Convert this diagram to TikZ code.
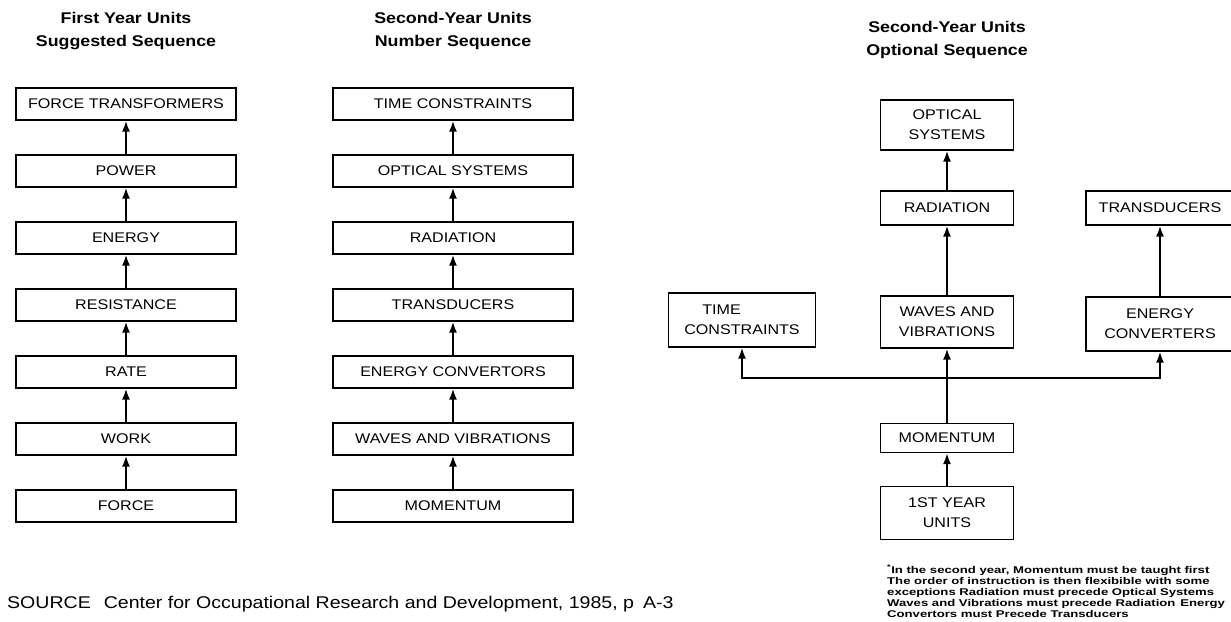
\documentclass[tikz,border=0pt]{standalone}
\usepackage{fontspec}
\setmainfont{Liberation Sans}[FakeStretch=1.15]
\newfontfamily\notefont{Liberation Sans}[FakeStretch=1.34]
\usetikzlibrary{positioning, arrows.meta}

\begin{document}
\begin{tikzpicture}[x=1pt, y=-1pt, node distance=67pt]
    % Define styles
    \tikzstyle{heading} = [align=center, font=\bfseries\fontsize{15.5}{23}\selectfont]
    \tikzstyle{unit} = [rectangle, draw=black, line width=1.3pt, minimum height=32pt, inner sep=2pt, align=center, font=\fontsize{14}{20}\selectfont]
    \tikzstyle{firstyear} = [unit, minimum width=220pt]
    \tikzstyle{secondyear} = [unit, minimum width=240pt]
    \tikzstyle{option} = [unit, minimum width=133pt]
    \tikzstyle{arrow} = [line width=1.8pt, -{Latex[length=11pt, width=8pt]}]

    \useasboundingbox (0,0) rectangle (1231,621);

    % Headings
    \node (head1) [heading] at (126,31) {First Year Units\\Suggested Sequence};
    \node (head2) [heading] at (453,31) {Second-Year Units\\Number Sequence};
    \node (head3) [heading] at (947,40) {Second-Year Units\\Optional Sequence};

    % First year column
    \node (force) [firstyear] at (126,506) {FORCE};
    \node (work) [firstyear, above of=force] {WORK};
    \node (rate) [firstyear, above of=work] {RATE};
    \node (resistance) [firstyear, above of=rate] {RESISTANCE};
    \node (energy) [firstyear, above of=resistance] {ENERGY};
    \node (power) [firstyear, above of=energy] {POWER};
    \node (forcetrans) [firstyear, above of=power] {FORCE TRANSFORMERS};

    % Second year, number sequence
    \node (momentum) [secondyear] at (453,506) {MOMENTUM};
    \node (waves) [secondyear, above of=momentum] {WAVES AND VIBRATIONS};
    \node (convertors) [secondyear, above of=waves] {ENERGY CONVERTORS};
    \node (transducers) [secondyear, above of=convertors] {TRANSDUCERS};
    \node (radiation) [secondyear, above of=transducers] {RADIATION};
    \node (optical) [secondyear, above of=radiation] {OPTICAL SYSTEMS};
    \node (time) [secondyear, above of=optical] {TIME CONSTRAINTS};

    % Second year, optional sequence
    \node (opt_optical) [option, minimum height=50pt] at (947,125) {OPTICAL\\SYSTEMS};
    \node (opt_radiation) [option, minimum height=34pt] at (947,208) {RADIATION};
    \node (opt_transducers) [option, minimum width=148pt, minimum height=34pt] at (1160,208) {TRANSDUCERS};
    \node (opt_time) [option, minimum width=147pt, minimum height=54pt, align=left] at (742,320) {\hspace*{18pt}TIME\\CONSTRAINTS};
    \node (opt_waves) [option, minimum height=52pt] at (947,322) {WAVES AND\\VIBRATIONS};
    \node (opt_converters) [option, minimum width=148pt, minimum height=54pt] at (1160,324) {ENERGY\\CONVERTERS};
    \node (opt_momentum) [option, minimum height=29pt] at (947,438) {MOMENTUM};
    \node (opt_first) [option, minimum height=53pt] at (947,513) {1ST YEAR\\UNITS};
    \coordinate (split) at (947,378);

    % Notes
    \node (note) [anchor=north west, align=left, inner sep=0pt, font=\notefont\bfseries\fontsize{9.8}{11}\selectfont] at (887,565) {\textsuperscript{*}In the second year, Momentum must be taught first\\
        The order of instruction is then flexibible with some\\
        exceptions Radiation must precede Optical Systems\\
        Waves and Vibrations must precede Radiation\hspace{5pt}Energy\\
        Convertors must Precede Transducers};
    \node (source) [anchor=west, inner sep=0pt, font=\fontsize{17}{20}\selectfont] at (7,604) {SOURCE\hspace{13pt}Center for Occupational Research and Development, 1985, p\hspace{9pt}A-3};

    % Arrows
    \draw [arrow] (force) -- (work);
    \draw [arrow] (work) -- (rate);
    \draw [arrow] (rate) -- (resistance);
    \draw [arrow] (resistance) -- (energy);
    \draw [arrow] (energy) -- (power);
    \draw [arrow] (power) -- (forcetrans);

    \draw [arrow] (momentum) -- (waves);
    \draw [arrow] (waves) -- (convertors);
    \draw [arrow] (convertors) -- (transducers);
    \draw [arrow] (transducers) -- (radiation);
    \draw [arrow] (radiation) -- (optical);
    \draw [arrow] (optical) -- (time);

    \draw [arrow] (opt_first) -- (opt_momentum);
    \draw [arrow] (opt_momentum) -- (opt_waves);
    \draw [arrow] (opt_waves) -- (opt_radiation);
    \draw [arrow] (opt_radiation) -- (opt_optical);
    \draw [arrow] (opt_converters) -- (opt_transducers);
    \draw [arrow] (split) -| (opt_time.south);
    \draw [arrow] (split) -| (opt_converters.south);
\end{tikzpicture}
\end{document}
